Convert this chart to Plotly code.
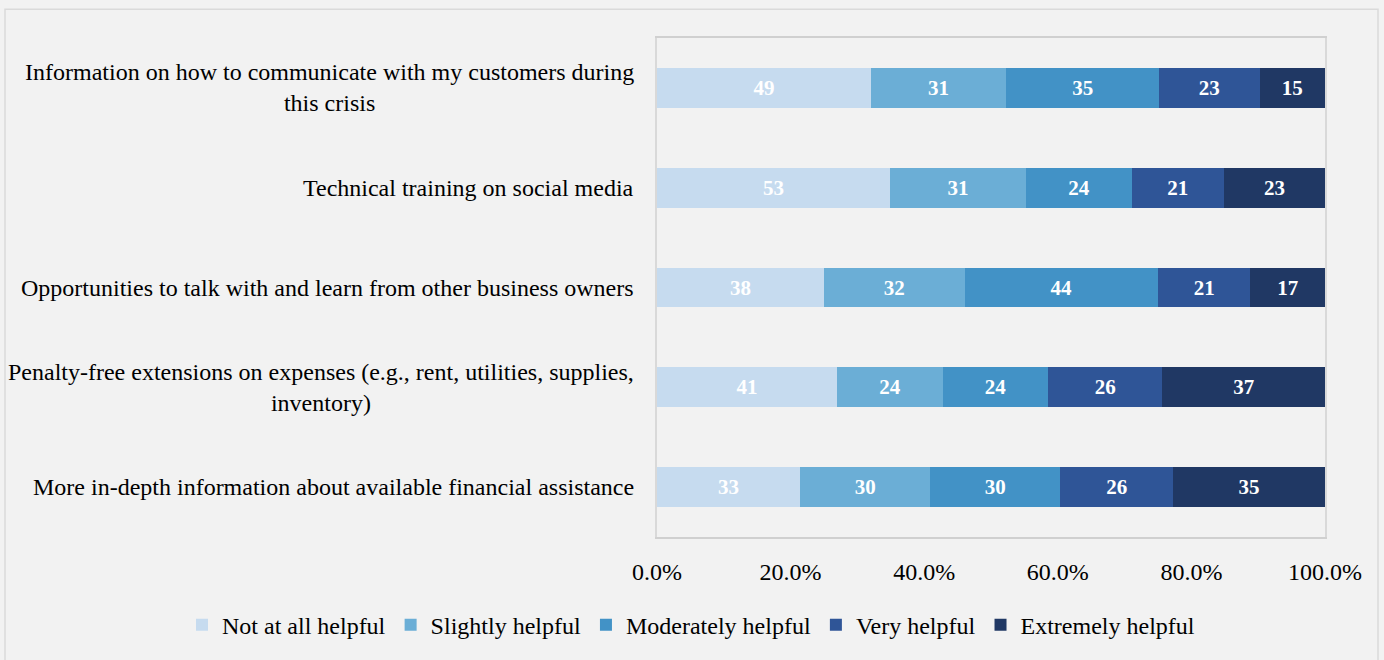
import plotly.graph_objects as go

categories = [
    "Information on how to communicate with my customers during<br>this crisis",
    "Technical training on social media",
    "Opportunities to talk with and learn from other business owners",
    "Penalty-free extensions on expenses (e.g., rent, utilities, supplies,<br>inventory)",
    "More in-depth information about available financial assistance",
]
series_names = ["Not at all helpful", "Slightly helpful", "Moderately helpful",
                "Very helpful", "Extremely helpful"]
not_at_all = [49, 53, 38, 41, 33]
slightly = [31, 31, 32, 24, 30]
moderately = [35, 24, 44, 24, 30]
very = [23, 21, 21, 26, 26]
extremely = [15, 23, 17, 37, 35]
series_values = [not_at_all, slightly, moderately, very, extremely]
colors = ["#C6DBEF", "#6BAED6", "#4292C6", "#2F5597", "#203864"]
tick_vals = [0, 20, 40, 60, 80, 100]
tick_text = [f"{v:.1f}%" for v in tick_vals]

FONT = "Liberation Serif"
W, H = 1384, 660
L, R, T, B = 657, 1325, 38, 542
pw, ph = R - L, B - T

fig = go.Figure()
for name, vals, col in zip(series_names, series_values, colors):
    fig.add_trace(go.Bar(
        y=categories, x=vals, name=name, orientation="h",
        marker=dict(color=col, line=dict(width=0)),
        text=[str(v) for v in vals], textposition="inside",
        insidetextanchor="middle", constraintext="none", textangle=0,
        textfont=dict(family=FONT, size=21, color="white", weight="bold"),
        hoverinfo="skip",
    ))

# category labels (centered multi-line, right-anchored next to the axis)
for cat in categories:
    fig.add_annotation(x=-21 / pw, xref="paper", y=cat, yref="y",
                       text=cat, showarrow=False, xanchor="right", align="center",
                       font=dict(family=FONT, size=24, color="#000000"))

fig.add_shape(type="rect", xref="paper", yref="paper",
              x0=(5 - L) / pw, x1=(1378 - L) / pw,
              y0=(B - 680) / ph, y1=(B - 9) / ph,
              line=dict(color="#DADADA", width=1.5), fillcolor="rgba(0,0,0,0)",
              layer="below")

fig.update_layout(
    width=W, height=H,
    margin=dict(l=L, r=W - R, t=T, b=H - B, pad=0),
    barmode="stack", barnorm="percent", bargap=0.6,
    paper_bgcolor="#F2F2F2", plot_bgcolor="#F2F2F2",
    font=dict(family=FONT, size=24, color="#000000"),
    showlegend=True,
    legend=dict(orientation="h", x=(182 - L) / pw, xanchor="left",
                y=(B - 631) / ph, yanchor="middle",
                font=dict(family=FONT, size=24, color="#000000"),
                traceorder="normal", itemwidth=30, bgcolor="rgba(0,0,0,0)"),
    xaxis=dict(range=[0, 100], tickmode="array", tickvals=tick_vals, ticktext=tick_text,
               showgrid=False, zeroline=False, showline=True, mirror=True,
               linecolor="#D0D0D0", linewidth=1.5, ticks="", ticklabelstandoff=12,
               tickfont=dict(family=FONT, size=24, color="#000000"), fixedrange=True),
    yaxis=dict(autorange="reversed", showgrid=False, zeroline=False, showline=True,
               mirror=True, linecolor="#D9D9D9", linewidth=1.5, ticks="",
               showticklabels=False, fixedrange=True),
)

fig.write_html("out.html", config={"displayModeBar": False},
               post_script="document.body.style.margin='0px';")
